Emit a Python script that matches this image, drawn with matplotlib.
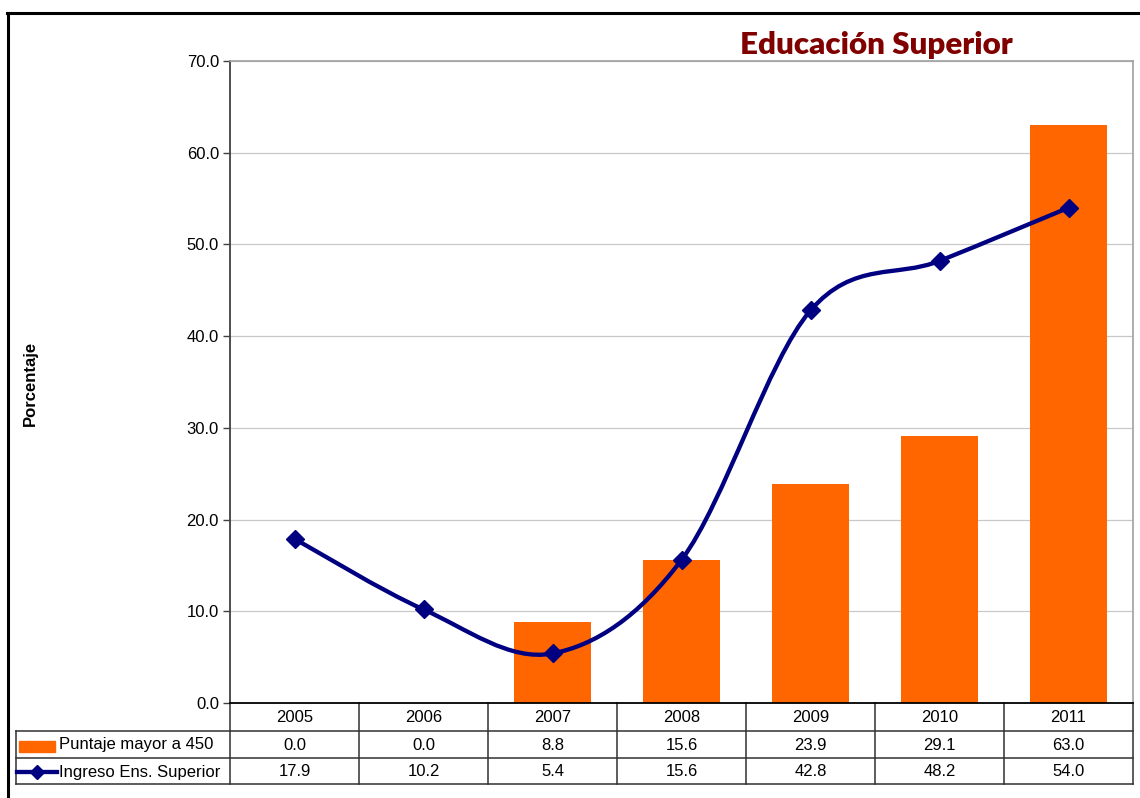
import numpy as np
import matplotlib.pyplot as plt
from matplotlib.path import Path
from matplotlib.patches import PathPatch, Rectangle
from matplotlib.lines import Line2D

# ================================
# Data
# ================================
years = ["2005", "2006", "2007", "2008", "2009", "2010", "2011"]
puntaje = [0.0, 0.0, 8.8, 15.6, 23.9, 29.1, 63.0]
ingreso = [17.9, 10.2, 5.4, 15.6, 42.8, 48.2, 54.0]
series_names = ["Puntaje mayor a 450", "Ingreso Ens. Superior"]

bar_color = "#FF6600"
line_color = "#000080"
W, H = 1140, 798
FS = 12

fig = plt.figure(figsize=(W / 100, H / 100), dpi=100)
ax = fig.add_axes([230 / W, 1 - 703 / H, (1133 - 230) / W, (703 - 61) / H])

x = np.arange(len(years))

# bars
ax.bar(x, puntaje, width=0.6, color=bar_color, zorder=2)

# smoothed line (Catmull-Rom as cubic bezier, like Excel)
pts = np.column_stack([x, ingreso]).astype(float)
verts = [pts[0]]
codes = [Path.MOVETO]
n = len(pts)
for i in range(n - 1):
    p0 = pts[max(i - 1, 0)]
    p1 = pts[i]
    p2 = pts[i + 1]
    p3 = pts[min(i + 2, n - 1)]
    verts += [p1 + (p2 - p0) / 6, p2 - (p3 - p1) / 6, p2]
    codes += [Path.CURVE4] * 3
ax.add_patch(PathPatch(Path(verts, codes), fill=False, edgecolor=line_color,
                       lw=3.1, zorder=3, capstyle="round"))
ax.plot(x, ingreso, ls="none", marker="D", ms=9, color=line_color, zorder=4)

ax.set_xlim(-0.5, len(years) - 0.5)
ax.set_ylim(0, 70)
ax.set_yticks(np.arange(0, 71, 10))
ax.set_yticklabels([f"{v:.1f}" for v in np.arange(0, 71, 10)], fontsize=FS,
                   family="Liberation Sans")
ax.set_xticks([])
ax.yaxis.grid(True, color="#C8C8C8", lw=0.9, zorder=0)
ax.set_axisbelow(True)
ax.tick_params(axis="y", length=5, width=1, color="#404040", pad=3)
for side in ["top", "right"]:
    ax.spines[side].set_color("#A0A0A0")
    ax.spines[side].set_linewidth(1.2)
ax.spines["left"].set_color("#404040")
ax.spines["left"].set_linewidth(1.3)
ax.spines["bottom"].set_color("black")
ax.spines["bottom"].set_linewidth(1.3)

# ================================
# Data table below the axes
# ================================
def fy(py):
    return 1 - py / H

row_y = [703, 731, 758, 784]
tr = ax.get_xaxis_transform()
axh = 703 - 61


def ay(py):
    return (703 - py) / axh


# vertical column lines
for b in np.arange(-0.5, len(years), 1.0):
    ax.plot([b, b], [ay(703), ay(784)], transform=tr, color="#303030",
            lw=1.1, clip_on=False)
# horizontal row lines
for ry in row_y[1:]:
    fig.add_artist(Line2D([16 / W, 1133 / W], [fy(ry), fy(ry)], color="#303030", lw=1.1))
fig.add_artist(Line2D([16 / W, 16 / W], [fy(731), fy(784)], color="#303030", lw=1.1))

for i, yr in enumerate(years):
    ax.text(i, ay(717), yr, transform=tr, ha="center", va="center",
            fontsize=FS, family="Liberation Sans", clip_on=False)
    ax.text(i, ay(745), f"{puntaje[i]:.1f}", transform=tr, ha="center",
            va="center", fontsize=FS, family="Liberation Sans", clip_on=False)
    ax.text(i, ay(772), f"{ingreso[i]:.1f}", transform=tr, ha="center",
            va="center", fontsize=FS, family="Liberation Sans", clip_on=False)

# legend keys
fig.add_artist(Rectangle((19 / W, fy(752)), 36 / W, 11 / H, color=bar_color))
fig.add_artist(Line2D([17 / W, 57 / W], [fy(772), fy(772)], color=line_color, lw=3.1))
fig.add_artist(Line2D([37 / W], [fy(772)], marker="D", ms=7, color=line_color))
fig.text(59 / W, fy(745), series_names[0], ha="left", va="center", fontsize=FS,
         family="Liberation Sans")
fig.text(59 / W, fy(772), series_names[1], ha="left", va="center", fontsize=FS,
         family="Liberation Sans")

# ================================
# Titles and frame
# ================================
fig.text(876 / W, fy(45), "Educación Superior", ha="center", va="center",
         fontsize=22.5, fontweight="heavy", color="#800000", family="Lato")
fig.text(30 / W, fy(383), "Porcentaje", rotation=90, ha="center", va="center",
         fontsize=FS, fontweight="bold", family="Liberation Sans")

fig.add_artist(Line2D([7 / W, 1 / 1], [fy(13), fy(13)], color="black", lw=2.2))
fig.add_artist(Line2D([7.5 / W, 7.5 / W], [fy(13), 0], color="black", lw=2.2))

fig.savefig("out.png", dpi=100)
